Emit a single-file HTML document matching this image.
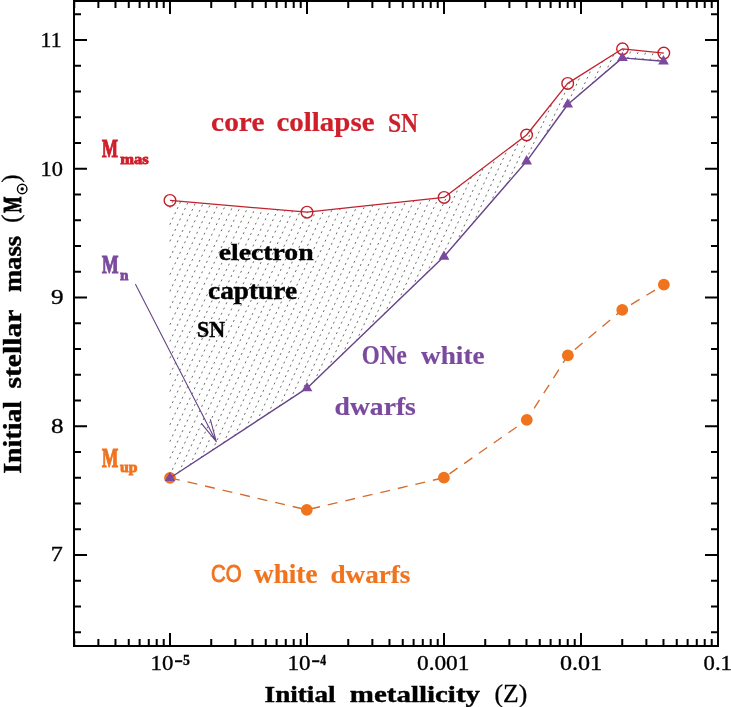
<!DOCTYPE html><html><head><meta charset="utf-8"><style>html,body{margin:0;padding:0;background:#fff;}svg{display:block;will-change:transform}</style></head><body>
<svg width="731" height="707" viewBox="0 0 731 707">
<rect width="731" height="707" fill="#fff"/>
<path d="M169.87 207.98L170.71 206.17M172.31 202.73L173.15 200.92M169.87 224.67L170.71 222.86M172.31 219.42L173.15 217.61M174.75 214.17L175.60 212.36M177.19 208.92L178.04 207.11M179.64 203.67L180.48 201.86M169.87 241.36L170.71 239.54M172.31 236.11L173.15 234.29M174.75 230.86L175.60 229.04M177.19 225.61L178.04 223.79M179.64 220.36L180.48 218.54M182.08 215.11L182.92 213.29M184.52 209.86L185.36 208.04M186.96 204.61L187.80 202.79M169.87 258.05L170.71 256.23M172.31 252.80L173.15 250.98M174.75 247.55L175.60 245.73M177.19 242.30L178.04 240.48M179.64 237.05L180.48 235.23M182.08 231.80L182.92 229.98M184.52 226.55L185.36 224.73M186.96 221.30L187.80 219.48M189.40 216.05L190.24 214.23M191.84 210.80L192.69 208.98M194.28 205.55L195.13 203.73M169.87 274.73L170.71 272.92M172.31 269.48L173.15 267.67M174.75 264.23L175.60 262.42M177.19 258.98L178.04 257.17M179.64 253.73L180.48 251.92M182.08 248.48L182.92 246.67M184.52 243.23L185.36 241.42M186.96 237.98L187.80 236.17M189.40 232.73L190.24 230.92M191.84 227.48L192.69 225.67M194.28 222.23L195.13 220.42M196.73 216.98L197.57 215.17M199.17 211.73L200.01 209.92M201.61 206.48L202.45 204.67M169.87 291.42L170.71 289.61M172.31 286.17L173.15 284.36M174.75 280.92L175.60 279.11M177.19 275.67L178.04 273.86M179.64 270.42L180.48 268.61M182.08 265.17L182.92 263.36M184.52 259.92L185.36 258.11M186.96 254.67L187.80 252.86M189.40 249.42L190.24 247.61M191.84 244.17L192.69 242.36M194.28 238.92L195.13 237.11M196.73 233.67L197.57 231.86M199.17 228.42L200.01 226.61M201.61 223.17L202.45 221.36M204.05 217.92L204.89 216.11M206.49 212.67L207.33 210.86M208.93 207.42L209.78 205.61M169.87 308.11L170.71 306.30M172.31 302.86L173.15 301.05M174.75 297.61L175.60 295.80M177.19 292.36L178.04 290.55M179.64 287.11L180.48 285.30M182.08 281.86L182.92 280.05M184.52 276.61L185.36 274.80M186.96 271.36L187.80 269.55M189.40 266.11L190.24 264.30M191.84 260.86L192.69 259.05M194.28 255.61L195.13 253.80M196.73 250.36L197.57 248.55M199.17 245.11L200.01 243.30M201.61 239.86L202.45 238.05M204.05 234.61L204.89 232.80M206.49 229.36L207.33 227.55M208.93 224.11L209.78 222.30M211.37 218.86L212.22 217.05M213.82 213.61L214.66 211.80M216.26 208.36L217.10 206.55M169.87 324.80L170.71 322.99M172.31 319.55L173.15 317.74M174.75 314.30L175.60 312.49M177.19 309.05L178.04 307.24M179.64 303.80L180.48 301.99M182.08 298.55L182.92 296.74M184.52 293.30L185.36 291.49M186.96 288.05L187.80 286.24M189.40 282.80L190.24 280.99M191.84 277.55L192.69 275.74M194.28 272.30L195.13 270.49M196.73 267.05L197.57 265.24M199.17 261.80L200.01 259.99M201.61 256.55L202.45 254.74M204.05 251.30L204.89 249.49M206.49 246.05L207.33 244.24M208.93 240.80L209.78 238.99M211.37 235.55L212.22 233.74M213.82 230.30L214.66 228.49M216.26 225.05L217.10 223.24M218.70 219.80L219.54 217.99M221.14 214.55L221.98 212.74M223.58 209.30L224.42 207.48M169.87 341.49L170.71 339.68M172.31 336.24L173.15 334.43M174.75 330.99L175.60 329.18M177.19 325.74L178.04 323.92M179.64 320.49L180.48 318.67M182.08 315.24L182.92 313.42M184.52 309.99L185.36 308.17M186.96 304.74L187.80 302.92M189.40 299.49L190.24 297.67M191.84 294.24L192.69 292.42M194.28 288.99L195.13 287.17M196.73 283.74L197.57 281.92M199.17 278.49L200.01 276.67M201.61 273.24L202.45 271.42M204.05 267.99L204.89 266.17M206.49 262.74L207.33 260.92M208.93 257.49L209.78 255.67M211.37 252.24L212.22 250.42M213.82 246.99L214.66 245.17M216.26 241.74L217.10 239.92M218.70 236.49L219.54 234.67M221.14 231.24L221.98 229.42M223.58 225.99L224.42 224.17M226.02 220.74L226.87 218.92M228.46 215.49L229.31 213.67M230.91 210.24L231.75 208.42M169.87 358.18L170.71 356.36M172.31 352.93L173.15 351.11M174.75 347.68L175.60 345.86M177.19 342.43L178.04 340.61M179.64 337.18L180.48 335.36M182.08 331.93L182.92 330.11M184.52 326.68L185.36 324.86M186.96 321.43L187.80 319.61M189.40 316.18L190.24 314.36M191.84 310.93L192.69 309.11M194.28 305.68L195.13 303.86M196.73 300.43L197.57 298.61M199.17 295.18L200.01 293.36M201.61 289.93L202.45 288.11M204.05 284.68L204.89 282.86M206.49 279.43L207.33 277.61M208.93 274.18L209.78 272.36M211.37 268.93L212.22 267.11M213.82 263.68L214.66 261.86M216.26 258.43L217.10 256.61M218.70 253.18L219.54 251.36M221.14 247.93L221.98 246.11M223.58 242.68L224.42 240.86M226.02 237.43L226.87 235.61M228.46 232.18L229.31 230.36M230.91 226.93L231.75 225.11M233.35 221.67L234.19 219.86M235.79 216.42L236.63 214.61M238.23 211.17L239.07 209.36M169.87 374.87L170.71 373.05M172.31 369.62L173.15 367.80M174.75 364.37L175.60 362.55M177.19 359.12L178.04 357.30M179.64 353.87L180.48 352.05M182.08 348.62L182.92 346.80M184.52 343.37L185.36 341.55M186.96 338.11L187.80 336.30M189.40 332.86L190.24 331.05M191.84 327.61L192.69 325.80M194.28 322.36L195.13 320.55M196.73 317.11L197.57 315.30M199.17 311.86L200.01 310.05M201.61 306.61L202.45 304.80M204.05 301.36L204.89 299.55M206.49 296.11L207.33 294.30M208.93 290.86L209.78 289.05M211.37 285.61L212.22 283.80M213.82 280.36L214.66 278.55M216.26 275.11L217.10 273.30M218.70 269.86L219.54 268.05M221.14 264.61L221.98 262.80M223.58 259.36L224.42 257.55M226.02 254.11L226.87 252.30M228.46 248.86L229.31 247.05M230.91 243.61L231.75 241.80M233.35 238.36L234.19 236.55M235.79 233.11L236.63 231.30M238.23 227.86L239.07 226.05M240.67 222.61L241.52 220.80M243.11 217.36L243.96 215.55M245.55 212.11L246.40 210.30M169.87 391.55L170.71 389.74M172.31 386.30L173.15 384.49M174.75 381.05L175.60 379.24M177.19 375.80L178.04 373.99M179.64 370.55L180.48 368.74M182.08 365.30L182.92 363.49M184.52 360.05L185.36 358.24M186.96 354.80L187.80 352.99M189.40 349.55L190.24 347.74M191.84 344.30L192.69 342.49M194.28 339.05L195.13 337.24M196.73 333.80L197.57 331.99M199.17 328.55L200.01 326.74M201.61 323.30L202.45 321.49M204.05 318.05L204.89 316.24M206.49 312.80L207.33 310.99M208.93 307.55L209.78 305.74M211.37 302.30L212.22 300.49M213.82 297.05L214.66 295.24M216.26 291.80L217.10 289.99M218.70 286.55L219.54 284.74M221.14 281.30L221.98 279.49M223.58 276.05L224.42 274.24M226.02 270.80L226.87 268.99M228.46 265.55L229.31 263.74M230.91 260.30L231.75 258.49M233.35 255.05L234.19 253.24M235.79 249.80L236.63 247.99M238.23 244.55L239.07 242.74M240.67 239.30L241.52 237.49M243.11 234.05L243.96 232.24M245.55 228.80L246.40 226.99M248.00 223.55L248.84 221.74M250.44 218.30L251.28 216.49M252.88 213.05L253.72 211.24M169.87 408.24L170.71 406.43M172.31 402.99L173.15 401.18M174.75 397.74L175.60 395.93M177.19 392.49L178.04 390.68M179.64 387.24L180.48 385.43M182.08 381.99L182.92 380.18M184.52 376.74L185.36 374.93M186.96 371.49L187.80 369.68M189.40 366.24L190.24 364.43M191.84 360.99L192.69 359.18M194.28 355.74L195.13 353.93M196.73 350.49L197.57 348.68M199.17 345.24L200.01 343.43M201.61 339.99L202.45 338.18M204.05 334.74L204.89 332.93M206.49 329.49L207.33 327.68M208.93 324.24L209.78 322.43M211.37 318.99L212.22 317.18M213.82 313.74L214.66 311.93M216.26 308.49L217.10 306.68M218.70 303.24L219.54 301.43M221.14 297.99L221.98 296.18M223.58 292.74L224.42 290.93M226.02 287.49L226.87 285.68M228.46 282.24L229.31 280.43M230.91 276.99L231.75 275.18M233.35 271.74L234.19 269.93M235.79 266.49L236.63 264.68M238.23 261.24L239.07 259.43M240.67 255.99L241.52 254.18M243.11 250.74L243.96 248.93M245.55 245.49L246.40 243.68M248.00 240.24L248.84 238.43M250.44 234.99L251.28 233.18M252.88 229.74L253.72 227.93M255.32 224.49L256.16 222.68M257.76 219.24L258.61 217.43M260.20 213.99L261.05 212.18M169.87 424.93L170.71 423.12M172.31 419.68L173.15 417.87M174.75 414.43L175.60 412.62M177.19 409.18L178.04 407.37M179.64 403.93L180.48 402.12M182.08 398.68L182.92 396.87M184.52 393.43L185.36 391.62M186.96 388.18L187.80 386.37M189.40 382.93L190.24 381.12M191.84 377.68L192.69 375.87M194.28 372.43L195.13 370.62M196.73 367.18L197.57 365.37M199.17 361.93L200.01 360.12M201.61 356.68L202.45 354.87M204.05 351.43L204.89 349.62M206.49 346.18L207.33 344.37M208.93 340.93L209.78 339.12M211.37 335.68L212.22 333.87M213.82 330.43L214.66 328.62M216.26 325.18L217.10 323.37M218.70 319.93L219.54 318.12M221.14 314.68L221.98 312.87M223.58 309.43L224.42 307.62M226.02 304.18L226.87 302.37M228.46 298.93L229.31 297.12M230.91 293.68L231.75 291.87M233.35 288.43L234.19 286.62M235.79 283.18L236.63 281.37M238.23 277.93L239.07 276.12M240.67 272.68L241.52 270.87M243.11 267.43L243.96 265.61M245.55 262.18L246.40 260.36M248.00 256.93L248.84 255.11M250.44 251.68L251.28 249.86M252.88 246.43L253.72 244.61M255.32 241.18L256.16 239.36M257.76 235.93L258.61 234.11M260.20 230.68L261.05 228.86M262.64 225.43L263.49 223.61M265.09 220.18L265.93 218.36M267.53 214.93L268.37 213.11M169.87 441.62L170.71 439.81M172.31 436.37L173.15 434.56M174.75 431.12L175.60 429.31M177.19 425.87L178.04 424.06M179.64 420.62L180.48 418.81M182.08 415.37L182.92 413.56M184.52 410.12L185.36 408.31M186.96 404.87L187.80 403.06M189.40 399.62L190.24 397.81M191.84 394.37L192.69 392.56M194.28 389.12L195.13 387.31M196.73 383.87L197.57 382.05M199.17 378.62L200.01 376.80M201.61 373.37L202.45 371.55M204.05 368.12L204.89 366.30M206.49 362.87L207.33 361.05M208.93 357.62L209.78 355.80M211.37 352.37L212.22 350.55M213.82 347.12L214.66 345.30M216.26 341.87L217.10 340.05M218.70 336.62L219.54 334.80M221.14 331.37L221.98 329.55M223.58 326.12L224.42 324.30M226.02 320.87L226.87 319.05M228.46 315.62L229.31 313.80M230.91 310.37L231.75 308.55M233.35 305.12L234.19 303.30M235.79 299.87L236.63 298.05M238.23 294.62L239.07 292.80M240.67 289.37L241.52 287.55M243.11 284.12L243.96 282.30M245.55 278.87L246.40 277.05M248.00 273.62L248.84 271.80M250.44 268.37L251.28 266.55M252.88 263.12L253.72 261.30M255.32 257.87L256.16 256.05M257.76 252.62L258.61 250.80M260.20 247.37L261.05 245.55M262.64 242.12L263.49 240.30M265.09 236.87L265.93 235.05M267.53 231.62L268.37 229.80M269.97 226.37L270.81 224.55M272.41 221.12L273.25 219.30M274.85 215.87L275.70 214.05M277.29 210.62L277.73 209.68M169.87 458.31L170.71 456.49M172.31 453.06L173.15 451.24M174.75 447.81L175.60 445.99M177.19 442.56L178.04 440.74M179.64 437.31L180.48 435.49M182.08 432.06L182.92 430.24M184.52 426.81L185.36 424.99M186.96 421.56L187.80 419.74M189.40 416.31L190.24 414.49M191.84 411.06L192.69 409.24M194.28 405.81L195.13 403.99M196.73 400.56L197.57 398.74M199.17 395.31L200.01 393.49M201.61 390.06L202.45 388.24M204.05 384.81L204.89 382.99M206.49 379.56L207.33 377.74M208.93 374.31L209.78 372.49M211.37 369.06L212.22 367.24M213.82 363.81L214.66 361.99M216.26 358.56L217.10 356.74M218.70 353.31L219.54 351.49M221.14 348.06L221.98 346.24M223.58 342.81L224.42 340.99M226.02 337.56L226.87 335.74M228.46 332.31L229.31 330.49M230.91 327.06L231.75 325.24M233.35 321.81L234.19 319.99M235.79 316.56L236.63 314.74M238.23 311.31L239.07 309.49M240.67 306.06L241.52 304.24M243.11 300.81L243.96 298.99M245.55 295.56L246.40 293.74M248.00 290.31L248.84 288.49M250.44 285.06L251.28 283.24M252.88 279.81L253.72 277.99M255.32 274.55L256.16 272.74M257.76 269.30L258.61 267.49M260.20 264.05L261.05 262.24M262.64 258.80L263.49 256.99M265.09 253.55L265.93 251.74M267.53 248.30L268.37 246.49M269.97 243.05L270.81 241.24M272.41 237.80L273.25 235.99M274.85 232.55L275.70 230.74M277.29 227.30L278.14 225.49M279.74 222.05L280.58 220.24M282.18 216.80L283.02 214.99M284.62 211.55L285.19 210.32M169.87 475.00L170.71 473.18M172.31 469.75L173.15 467.93M174.75 464.50L175.60 462.68M177.19 459.25L178.04 457.43M179.64 454.00L180.48 452.18M182.08 448.75L182.92 446.93M184.52 443.50L185.36 441.68M186.96 438.25L187.80 436.43M189.40 433.00L190.24 431.18M191.84 427.75L192.69 425.93M194.28 422.50L195.13 420.68M196.73 417.25L197.57 415.43M199.17 412.00L200.01 410.18M201.61 406.75L202.45 404.93M204.05 401.50L204.89 399.68M206.49 396.25L207.33 394.43M208.93 390.99L209.78 389.18M211.37 385.74L212.22 383.93M213.82 380.49L214.66 378.68M216.26 375.24L217.10 373.43M218.70 369.99L219.54 368.18M221.14 364.74L221.98 362.93M223.58 359.49L224.42 357.68M226.02 354.24L226.87 352.43M228.46 348.99L229.31 347.18M230.91 343.74L231.75 341.93M233.35 338.49L234.19 336.68M235.79 333.24L236.63 331.43M238.23 327.99L239.07 326.18M240.67 322.74L241.52 320.93M243.11 317.49L243.96 315.68M245.55 312.24L246.40 310.43M248.00 306.99L248.84 305.18M250.44 301.74L251.28 299.93M252.88 296.49L253.72 294.68M255.32 291.24L256.16 289.43M257.76 285.99L258.61 284.18M260.20 280.74L261.05 278.93M262.64 275.49L263.49 273.68M265.09 270.24L265.93 268.43M267.53 264.99L268.37 263.18M269.97 259.74L270.81 257.93M272.41 254.49L273.25 252.68M274.85 249.24L275.70 247.43M277.29 243.99L278.14 242.18M279.74 238.74L280.58 236.93M282.18 233.49L283.02 231.68M284.62 228.24L285.46 226.43M287.06 222.99L287.90 221.18M289.50 217.74L290.34 215.93M291.94 212.49L292.65 210.96M178.84 472.40L179.68 470.59M181.28 467.15L182.12 465.34M183.72 461.90L184.56 460.09M186.16 456.65L187.00 454.84M188.60 451.40L189.44 449.59M191.04 446.15L191.89 444.34M193.48 440.90L194.33 439.09M195.93 435.65L196.77 433.84M198.37 430.40L199.21 428.59M200.81 425.15L201.65 423.34M203.25 419.90L204.09 418.09M205.69 414.65L206.53 412.84M208.13 409.40L208.98 407.59M210.57 404.15L211.42 402.34M213.02 398.90L213.86 397.09M215.46 393.65L216.30 391.84M217.90 388.40L218.74 386.59M220.34 383.15L221.18 381.34M222.78 377.90L223.63 376.09M225.22 372.65L226.07 370.84M227.66 367.40L228.51 365.59M230.11 362.15L230.95 360.34M232.55 356.90L233.39 355.09M234.99 351.65L235.83 349.84M237.43 346.40L238.27 344.59M239.87 341.15L240.72 339.34M242.31 335.90L243.16 334.09M244.75 330.65L245.60 328.84M247.20 325.40L248.04 323.59M249.64 320.15L250.48 318.34M252.08 314.90L252.92 313.09M254.52 309.65L255.36 307.84M256.96 304.40L257.81 302.59M259.40 299.15L260.25 297.34M261.85 293.90L262.69 292.09M264.29 288.65L265.13 286.84M266.73 283.40L267.57 281.59M269.17 278.15L270.01 276.34M271.61 272.90L272.45 271.09M274.05 267.65L274.90 265.84M276.49 262.40L277.34 260.59M278.94 257.15L279.78 255.34M281.38 251.90L282.22 250.09M283.82 246.65L284.66 244.84M286.26 241.40L287.10 239.59M288.70 236.15L289.54 234.34M291.14 230.90L291.99 229.09M293.58 225.65L294.43 223.84M296.03 220.40L296.87 218.59M298.47 215.15L299.31 213.34M190.00 465.09L190.84 463.27M192.44 459.84L193.28 458.02M194.88 454.59L195.73 452.77M197.32 449.34L198.17 447.52M199.76 444.09L200.61 442.27M202.21 438.84L203.05 437.02M204.65 433.59L205.49 431.77M207.09 428.34L207.93 426.52M209.53 423.09L210.37 421.27M211.97 417.84L212.82 416.02M214.41 412.59L215.26 410.77M216.86 407.34L217.70 405.52M219.30 402.09L220.14 400.27M221.74 396.84L222.58 395.02M224.18 391.59L225.02 389.77M226.62 386.34L227.46 384.52M229.06 381.09L229.91 379.27M231.50 375.84L232.35 374.02M233.95 370.59L234.79 368.77M236.39 365.34L237.23 363.52M238.83 360.08L239.67 358.27M241.27 354.83L242.11 353.02M243.71 349.58L244.55 347.77M246.15 344.33L247.00 342.52M248.59 339.08L249.44 337.27M251.04 333.83L251.88 332.02M253.48 328.58L254.32 326.77M255.92 323.33L256.76 321.52M258.36 318.08L259.20 316.27M260.80 312.83L261.64 311.02M263.24 307.58L264.09 305.77M265.68 302.33L266.53 300.52M268.13 297.08L268.97 295.27M270.57 291.83L271.41 290.02M273.01 286.58L273.85 284.77M275.45 281.33L276.29 279.52M277.89 276.08L278.73 274.27M280.33 270.83L281.18 269.02M282.77 265.58L283.62 263.77M285.22 260.33L286.06 258.52M287.66 255.08L288.50 253.27M290.10 249.83L290.94 248.02M292.54 244.58L293.38 242.77M294.98 239.33L295.83 237.52M297.42 234.08L298.27 232.27M299.86 228.83L300.71 227.02M302.31 223.58L303.15 221.77M304.75 218.33L305.59 216.52M307.19 213.08L307.63 212.13M201.16 457.77L202.01 455.96M203.60 452.52L204.45 450.71M206.05 447.27L206.89 445.46M208.49 442.02L209.33 440.21M210.93 436.77L211.77 434.96M213.37 431.52L214.21 429.71M215.81 426.27L216.65 424.46M218.25 421.02L219.10 419.21M220.69 415.77L221.54 413.96M223.14 410.52L223.98 408.70M225.58 405.27L226.42 403.45M228.02 400.02L228.86 398.20M230.46 394.77L231.30 392.95M232.90 389.52L233.74 387.70M235.34 384.27L236.19 382.45M237.78 379.02L238.63 377.20M240.23 373.77L241.07 371.95M242.67 368.52L243.51 366.70M245.11 363.27L245.95 361.45M247.55 358.02L248.39 356.20M249.99 352.77L250.84 350.95M252.43 347.52L253.28 345.70M254.87 342.27L255.72 340.45M257.32 337.02L258.16 335.20M259.76 331.77L260.60 329.95M262.20 326.52L263.04 324.70M264.64 321.27L265.48 319.45M267.08 316.02L267.93 314.20M269.52 310.77L270.37 308.95M271.96 305.52L272.81 303.70M274.41 300.27L275.25 298.45M276.85 295.02L277.69 293.20M279.29 289.77L280.13 287.95M281.73 284.52L282.57 282.70M284.17 279.27L285.02 277.45M286.61 274.02L287.46 272.20M289.06 268.77L289.90 266.95M291.50 263.52L292.34 261.70M293.94 258.27L294.78 256.45M296.38 253.02L297.22 251.20M298.82 247.77L299.66 245.95M301.26 242.52L302.11 240.70M303.70 237.27L304.55 235.45M306.15 232.02L306.99 230.20M308.59 226.77L309.43 224.95M311.03 221.52L311.87 219.70M313.47 216.27L314.31 214.45M212.33 450.45L213.17 448.64M214.77 445.20L215.61 443.39M217.21 439.95L218.05 438.14M219.65 434.70L220.49 432.89M222.09 429.45L222.94 427.64M224.53 424.20L225.38 422.39M226.97 418.95L227.82 417.14M229.42 413.70L230.26 411.89M231.86 408.45L232.70 406.64M234.30 403.20L235.14 401.39M236.74 397.95L237.58 396.14M239.18 392.70L240.03 390.89M241.62 387.45L242.47 385.64M244.07 382.20L244.91 380.39M246.51 376.95L247.35 375.14M248.95 371.70L249.79 369.89M251.39 366.45L252.23 364.64M253.83 361.20L254.67 359.39M256.27 355.95L257.12 354.14M258.71 350.70L259.56 348.89M261.16 345.45L262.00 343.64M263.60 340.20L264.44 338.39M266.04 334.95L266.88 333.14M268.48 329.70L269.32 327.89M270.92 324.45L271.76 322.64M273.36 319.20L274.21 317.39M275.80 313.95L276.65 312.14M278.25 308.70L279.09 306.89M280.69 303.45L281.53 301.64M283.13 298.20L283.97 296.39M285.57 292.95L286.41 291.14M288.01 287.70L288.85 285.89M290.45 282.45L291.30 280.64M292.89 277.20L293.74 275.39M295.34 271.95L296.18 270.14M297.78 266.70L298.62 264.89M300.22 261.45L301.06 259.64M302.66 256.20L303.50 254.39M305.10 250.95L305.94 249.14M307.54 245.70L308.39 243.89M309.98 240.45L310.83 238.64M312.43 235.20L313.27 233.38M314.87 229.95L315.71 228.13M317.31 224.70L318.15 222.88M319.75 219.45L320.59 217.63M322.19 214.20L323.04 212.38M223.49 443.13L224.33 441.32M225.93 437.88L226.77 436.07M228.37 432.63L229.22 430.82M230.81 427.38L231.66 425.57M233.26 422.13L234.10 420.32M235.70 416.88L236.54 415.07M238.14 411.63L238.98 409.82M240.58 406.38L241.42 404.57M243.02 401.13L243.86 399.32M245.46 395.88L246.31 394.07M247.90 390.63L248.75 388.82M250.35 385.38L251.19 383.57M252.79 380.13L253.63 378.32M255.23 374.88L256.07 373.07M257.67 369.63L258.51 367.82M260.11 364.38L260.95 362.57M262.55 359.13L263.40 357.32M264.99 353.88L265.84 352.07M267.44 348.63L268.28 346.82M269.88 343.38L270.72 341.57M272.32 338.13L273.16 336.32M274.76 332.88L275.60 331.07M277.20 327.63L278.05 325.82M279.64 322.38L280.49 320.57M282.08 317.13L282.93 315.32M284.53 311.88L285.37 310.07M286.97 306.63L287.81 304.82M289.41 301.38L290.25 299.57M291.85 296.13L292.69 294.32M294.29 290.88L295.14 289.07M296.73 285.63L297.58 283.82M299.17 280.38L300.02 278.57M301.62 275.13L302.46 273.32M304.06 269.88L304.90 268.07M306.50 264.63L307.34 262.82M308.94 259.38L309.78 257.57M311.38 254.13L312.23 252.32M313.82 248.88L314.67 247.07M316.27 243.63L317.11 241.82M318.71 238.38L319.55 236.57M321.15 233.13L321.99 231.32M323.59 227.88L324.43 226.07M326.03 222.63L326.87 220.82M328.47 217.38L329.32 215.57M330.91 212.13L331.76 210.32M234.65 435.82L235.50 434.00M237.09 430.57L237.94 428.75M239.54 425.32L240.38 423.50M241.98 420.07L242.82 418.25M244.42 414.82L245.26 413.00M246.86 409.57L247.70 407.75M249.30 404.32L250.15 402.50M251.74 399.07L252.59 397.25M254.18 393.82L255.03 392.00M256.63 388.57L257.47 386.75M259.07 383.32L259.91 381.50M261.51 378.07L262.35 376.25M263.95 372.82L264.79 371.00M266.39 367.57L267.24 365.75M268.83 362.32L269.68 360.50M271.28 357.07L272.12 355.25M273.72 351.82L274.56 350.00M276.16 346.57L277.00 344.75M278.60 341.32L279.44 339.50M281.04 336.07L281.88 334.25M283.48 330.82L284.33 329.00M285.92 325.57L286.77 323.75M288.37 320.32L289.21 318.50M290.81 315.07L291.65 313.25M293.25 309.82L294.09 308.00M295.69 304.56L296.53 302.75M298.13 299.31L298.97 297.50M300.57 294.06L301.42 292.25M303.01 288.81L303.86 287.00M305.46 283.56L306.30 281.75M307.90 278.31L308.74 276.50M310.34 273.06L311.18 271.25M312.78 267.81L313.62 266.00M315.22 262.56L316.06 260.75M317.66 257.31L318.51 255.50M320.10 252.06L320.95 250.25M322.55 246.81L323.39 245.00M324.99 241.56L325.83 239.75M327.43 236.31L328.27 234.50M329.87 231.06L330.71 229.25M332.31 225.81L333.15 224.00M334.75 220.56L335.60 218.75M337.19 215.31L338.04 213.50M339.64 210.06L340.31 208.60M245.82 428.50L246.66 426.69M248.26 423.25L249.10 421.44M250.70 418.00L251.54 416.19M253.14 412.75L253.98 410.94M255.58 407.50L256.43 405.69M258.02 402.25L258.87 400.44M260.47 397.00L261.31 395.19M262.91 391.75L263.75 389.94M265.35 386.50L266.19 384.69M267.79 381.25L268.63 379.44M270.23 376.00L271.07 374.19M272.67 370.75L273.52 368.94M275.11 365.50L275.96 363.69M277.56 360.25L278.40 358.44M280.00 355.00L280.84 353.18M282.44 349.75L283.28 347.93M284.88 344.50L285.72 342.68M287.32 339.25L288.16 337.43M289.76 334.00L290.61 332.18M292.20 328.75L293.05 326.93M294.65 323.50L295.49 321.68M297.09 318.25L297.93 316.43M299.53 313.00L300.37 311.18M301.97 307.75L302.81 305.93M304.41 302.50L305.26 300.68M306.85 297.25L307.70 295.43M309.29 292.00L310.14 290.18M311.74 286.75L312.58 284.93M314.18 281.50L315.02 279.68M316.62 276.25L317.46 274.43M319.06 271.00L319.90 269.18M321.50 265.75L322.35 263.93M323.94 260.50L324.79 258.68M326.38 255.25L327.23 253.43M328.83 250.00L329.67 248.18M331.27 244.75L332.11 242.93M333.71 239.50L334.55 237.68M336.15 234.25L336.99 232.43M338.59 229.00L339.44 227.18M341.03 223.75L341.88 221.93M343.48 218.50L344.32 216.68M345.92 213.25L346.76 211.43M256.98 421.18L257.82 419.37M259.42 415.93L260.26 414.12M261.86 410.68L262.71 408.87M264.30 405.43L265.15 403.62M266.75 400.18L267.59 398.37M269.19 394.93L270.03 393.12M271.63 389.68L272.47 387.87M274.07 384.43L274.91 382.62M276.51 379.18L277.36 377.37M278.95 373.93L279.80 372.12M281.39 368.68L282.24 366.87M283.84 363.43L284.68 361.62M286.28 358.18L287.12 356.37M288.72 352.93L289.56 351.12M291.16 347.68L292.00 345.87M293.60 342.43L294.45 340.62M296.04 337.18L296.89 335.37M298.48 331.93L299.33 330.12M300.93 326.68L301.77 324.87M303.37 321.43L304.21 319.62M305.81 316.18L306.65 314.37M308.25 310.93L309.09 309.12M310.69 305.68L311.54 303.87M313.13 300.43L313.98 298.62M315.58 295.18L316.42 293.37M318.02 289.93L318.86 288.12M320.46 284.68L321.30 282.87M322.90 279.43L323.74 277.62M325.34 274.18L326.18 272.37M327.78 268.93L328.63 267.12M330.22 263.68L331.07 261.87M332.67 258.43L333.51 256.62M335.11 253.18L335.95 251.37M337.55 247.93L338.39 246.12M339.99 242.68L340.83 240.87M342.43 237.43L343.27 235.62M344.87 232.18L345.72 230.37M347.31 226.93L348.16 225.12M349.76 221.68L350.60 219.87M352.20 216.43L353.04 214.62M354.64 211.18L355.48 209.37M268.14 413.86L268.99 412.05M270.59 408.61L271.43 406.80M273.03 403.36L273.87 401.55M275.47 398.11L276.31 396.30M277.91 392.86L278.75 391.05M280.35 387.61L281.19 385.80M282.79 382.36L283.64 380.55M285.23 377.11L286.08 375.30M287.68 371.86L288.52 370.05M290.12 366.61L290.96 364.80M292.56 361.36L293.40 359.55M295.00 356.11L295.84 354.30M297.44 350.86L298.28 349.05M299.88 345.61L300.73 343.80M302.32 340.36L303.17 338.55M304.77 335.11L305.61 333.30M307.21 329.86L308.05 328.05M309.65 324.61L310.49 322.80M312.09 319.36L312.93 317.55M314.53 314.11L315.37 312.30M316.97 308.86L317.82 307.05M319.41 303.61L320.26 301.80M321.86 298.36L322.70 296.55M324.30 293.11L325.14 291.30M326.74 287.86L327.58 286.05M329.18 282.61L330.02 280.80M331.62 277.36L332.47 275.55M334.06 272.11L334.91 270.30M336.50 266.86L337.35 265.05M338.95 261.61L339.79 259.80M341.39 256.36L342.23 254.55M343.83 251.11L344.67 249.30M346.27 245.86L347.11 244.05M348.71 240.61L349.56 238.80M351.15 235.36L352.00 233.55M353.59 230.11L354.44 228.30M356.04 224.86L356.88 223.05M358.48 219.61L359.32 217.80M360.92 214.36L361.76 212.55M363.36 209.11L364.20 207.30M279.31 406.55L280.15 404.73M281.75 401.30L282.59 399.48M284.19 396.05L285.03 394.23M286.63 390.80L287.47 388.98M289.07 385.55L289.92 383.73M291.51 380.30L292.36 378.48M293.96 375.05L294.80 373.23M296.40 369.80L297.24 367.98M298.84 364.55L299.68 362.73M301.28 359.30L302.12 357.48M303.72 354.05L304.57 352.23M306.16 348.80L307.01 346.98M308.60 343.55L309.45 341.73M311.05 338.30L311.89 336.48M313.49 333.05L314.33 331.23M315.93 327.80L316.77 325.98M318.37 322.55L319.21 320.73M320.81 317.30L321.66 315.48M323.25 312.05L324.10 310.23M325.69 306.80L326.54 304.98M328.14 301.55L328.98 299.73M330.58 296.30L331.42 294.48M333.02 291.05L333.86 289.23M335.46 285.80L336.30 283.98M337.90 280.55L338.75 278.73M340.34 275.30L341.19 273.48M342.79 270.05L343.63 268.23M345.23 264.80L346.07 262.98M347.67 259.55L348.51 257.73M350.11 254.30L350.95 252.48M352.55 249.04L353.39 247.23M354.99 243.79L355.84 241.98M357.43 238.54L358.28 236.73M359.88 233.29L360.72 231.48M362.32 228.04L363.16 226.23M364.76 222.79L365.60 220.98M367.20 217.54L368.04 215.73M369.64 212.29L370.48 210.48M372.08 207.04L372.93 205.23M290.47 399.23L291.31 397.42M292.91 393.98L293.76 392.17M295.35 388.73L296.20 386.92M297.80 383.48L298.64 381.67M300.24 378.23L301.08 376.42M302.68 372.98L303.52 371.17M305.12 367.73L305.96 365.92M307.56 362.48L308.40 360.67M310.00 357.23L310.85 355.42M312.44 351.98L313.29 350.17M314.89 346.73L315.73 344.92M317.33 341.48L318.17 339.67M319.77 336.23L320.61 334.42M322.21 330.98L323.05 329.17M324.65 325.73L325.49 323.92M327.09 320.48L327.94 318.67M329.53 315.23L330.38 313.42M331.98 309.98L332.82 308.17M334.42 304.73L335.26 302.91M336.86 299.48L337.70 297.66M339.30 294.23L340.14 292.41M341.74 288.98L342.58 287.16M344.18 283.73L345.03 281.91M346.62 278.48L347.47 276.66M349.07 273.23L349.91 271.41M351.51 267.98L352.35 266.16M353.95 262.73L354.79 260.91M356.39 257.48L357.23 255.66M358.83 252.23L359.67 250.41M361.27 246.98L362.12 245.16M363.71 241.73L364.56 239.91M366.16 236.48L367.00 234.66M368.60 231.23L369.44 229.41M371.04 225.98L371.88 224.16M373.48 220.73L374.32 218.91M375.92 215.48L376.77 213.66M378.36 210.23L379.21 208.41M301.63 391.91L302.48 390.10M304.08 386.66L304.92 384.85M306.52 381.41L307.36 379.60M308.96 376.16L309.80 374.35M311.40 370.91L312.24 369.10M313.84 365.66L314.68 363.85M316.28 360.41L317.13 358.60M318.72 355.16L319.57 353.35M321.17 349.91L322.01 348.10M323.61 344.66L324.45 342.85M326.05 339.41L326.89 337.60M328.49 334.16L329.33 332.35M330.93 328.91L331.78 327.10M333.37 323.66L334.22 321.85M335.81 318.41L336.66 316.60M338.26 313.16L339.10 311.35M340.70 307.91L341.54 306.10M343.14 302.66L343.98 300.85M345.58 297.41L346.42 295.60M348.02 292.16L348.87 290.35M350.46 286.91L351.31 285.10M352.90 281.66L353.75 279.85M355.35 276.41L356.19 274.60M357.79 271.16L358.63 269.35M360.23 265.91L361.07 264.10M362.67 260.66L363.51 258.85M365.11 255.41L365.96 253.60M367.55 250.16L368.40 248.35M370.00 244.91L370.84 243.10M372.44 239.66L373.28 237.85M374.88 234.41L375.72 232.60M377.32 229.16L378.16 227.35M379.76 223.91L380.60 222.10M382.20 218.66L383.05 216.85M384.64 213.41L385.49 211.60M387.09 208.16L387.93 206.35M314.32 381.33L315.16 379.51M316.76 376.08L317.60 374.26M319.20 370.83L320.04 369.01M321.64 365.58L322.49 363.76M324.08 360.33L324.93 358.51M326.53 355.08L327.37 353.26M328.97 349.83L329.81 348.01M331.41 344.58L332.25 342.76M333.85 339.33L334.69 337.51M336.29 334.08L337.13 332.26M338.73 328.83L339.58 327.01M341.17 323.58L342.02 321.76M343.62 318.33L344.46 316.51M346.06 313.07L346.90 311.26M348.50 307.82L349.34 306.01M350.94 302.57L351.78 300.76M353.38 297.32L354.22 295.51M355.82 292.07L356.67 290.26M358.26 286.82L359.11 285.01M360.71 281.57L361.55 279.76M363.15 276.32L363.99 274.51M365.59 271.07L366.43 269.26M368.03 265.82L368.87 264.01M370.47 260.57L371.31 258.76M372.91 255.32L373.76 253.51M375.35 250.07L376.20 248.26M377.80 244.82L378.64 243.01M380.24 239.57L381.08 237.76M382.68 234.32L383.52 232.51M385.12 229.07L385.96 227.26M387.56 223.82L388.41 222.01M390.00 218.57L390.85 216.76M392.44 213.32L393.29 211.51M394.89 208.07L395.73 206.26M328.34 367.85L329.19 366.04M330.79 362.60L331.63 360.79M333.23 357.35L334.07 355.54M335.67 352.10L336.51 350.29M338.11 346.85L338.95 345.04M340.55 341.60L341.39 339.79M342.99 336.35L343.84 334.54M345.43 331.10L346.28 329.29M347.88 325.85L348.72 324.04M350.32 320.60L351.16 318.79M352.76 315.35L353.60 313.54M355.20 310.10L356.04 308.29M357.64 304.85L358.49 303.04M360.08 299.60L360.93 297.79M362.52 294.35L363.37 292.54M364.97 289.10L365.81 287.29M367.41 283.85L368.25 282.04M369.85 278.60L370.69 276.79M372.29 273.35L373.13 271.54M374.73 268.10L375.58 266.29M377.17 262.85L378.02 261.04M379.61 257.60L380.46 255.79M382.06 252.35L382.90 250.54M384.50 247.10L385.34 245.29M386.94 241.85L387.78 240.04M389.38 236.60L390.22 234.79M391.82 231.35L392.67 229.54M394.26 226.10L395.11 224.29M396.71 220.85L397.55 219.04M399.15 215.60L399.99 213.79M401.59 210.35L402.43 208.54M404.03 205.10L404.87 203.29M342.37 354.38L343.21 352.57M344.81 349.13L345.66 347.32M347.25 343.88L348.10 342.07M349.69 338.63L350.54 336.82M352.14 333.38L352.98 331.57M354.58 328.13L355.42 326.32M357.02 322.88L357.86 321.07M359.46 317.63L360.30 315.82M361.90 312.38L362.75 310.57M364.34 307.13L365.19 305.31M366.79 301.88L367.63 300.06M369.23 296.63L370.07 294.81M371.67 291.38L372.51 289.56M374.11 286.13L374.95 284.31M376.55 280.88L377.39 279.06M378.99 275.63L379.84 273.81M381.43 270.38L382.28 268.56M383.88 265.13L384.72 263.31M386.32 259.88L387.16 258.06M388.76 254.63L389.60 252.81M391.20 249.38L392.04 247.56M393.64 244.13L394.48 242.31M396.08 238.88L396.93 237.06M398.52 233.63L399.37 231.81M400.97 228.38L401.81 226.56M403.41 223.13L404.25 221.31M405.85 217.88L406.69 216.06M408.29 212.63L409.13 210.81M410.73 207.38L411.57 205.56M413.17 202.13L413.85 200.67M356.40 340.91L357.24 339.09M358.84 335.66L359.68 333.84M361.28 330.41L362.12 328.59M363.72 325.16L364.56 323.34M366.16 319.91L367.01 318.09M368.60 314.66L369.45 312.84M371.05 309.41L371.89 307.59M373.49 304.16L374.33 302.34M375.93 298.91L376.77 297.09M378.37 293.66L379.21 291.84M380.81 288.40L381.65 286.59M383.25 283.15L384.10 281.34M385.69 277.90L386.54 276.09M388.14 272.65L388.98 270.84M390.58 267.40L391.42 265.59M393.02 262.15L393.86 260.34M395.46 256.90L396.30 255.09M397.90 251.65L398.75 249.84M400.34 246.40L401.19 244.59M402.78 241.15L403.63 239.34M405.23 235.90L406.07 234.09M407.67 230.65L408.51 228.84M410.11 225.40L410.95 223.59M412.55 220.15L413.39 218.34M414.99 214.90L415.84 213.09M417.43 209.65L418.28 207.84M419.87 204.40L420.72 202.59M370.42 327.43L371.27 325.62M372.86 322.18L373.71 320.37M375.31 316.93L376.15 315.12M377.75 311.68L378.59 309.87M380.19 306.43L381.03 304.62M382.63 301.18L383.47 299.37M385.07 295.93L385.92 294.12M387.51 290.68L388.36 288.87M389.95 285.43L390.80 283.62M392.40 280.18L393.24 278.37M394.84 274.93L395.68 273.12M397.28 269.68L398.12 267.87M399.72 264.43L400.56 262.62M402.16 259.18L403.01 257.37M404.60 253.93L405.45 252.12M407.05 248.68L407.89 246.87M409.49 243.43L410.33 241.62M411.93 238.18L412.77 236.37M414.37 232.93L415.21 231.12M416.81 227.68L417.65 225.87M419.25 222.43L420.10 220.62M421.69 217.18L422.54 215.37M424.14 211.93L424.98 210.12M426.58 206.68L427.42 204.87M429.02 201.43L429.86 199.62M384.45 313.96L385.29 312.15M386.89 308.71L387.73 306.90M389.33 303.46L390.18 301.65M391.77 298.21L392.62 296.40M394.22 292.96L395.06 291.15M396.66 287.71L397.50 285.90M399.10 282.46L399.94 280.64M401.54 277.21L402.38 275.39M403.98 271.96L404.82 270.14M406.42 266.71L407.27 264.89M408.86 261.46L409.71 259.64M411.31 256.21L412.15 254.39M413.75 250.96L414.59 249.14M416.19 245.71L417.03 243.89M418.63 240.46L419.47 238.64M421.07 235.21L421.91 233.39M423.51 229.96L424.36 228.14M425.95 224.71L426.80 222.89M428.40 219.46L429.24 217.64M430.84 214.21L431.68 212.39M433.28 208.96L434.12 207.14M435.72 203.71L436.56 201.89M398.48 300.49L399.32 298.67M400.92 295.24L401.76 293.42M403.36 289.99L404.20 288.17M405.80 284.74L406.64 282.92M408.24 279.49L409.08 277.67M410.68 274.24L411.53 272.42M413.12 268.99L413.97 267.17M415.57 263.73L416.41 261.92M418.01 258.48L418.85 256.67M420.45 253.23L421.29 251.42M422.89 247.98L423.73 246.17M425.33 242.73L426.18 240.92M427.77 237.48L428.62 235.67M430.21 232.23L431.06 230.42M432.66 226.98L433.50 225.17M435.10 221.73L435.94 219.92M437.54 216.48L438.38 214.67M439.98 211.23L440.82 209.42M442.42 205.98L443.27 204.17M444.86 200.73L445.71 198.92M412.50 287.01L413.35 285.20M414.94 281.76L415.79 279.95M417.38 276.51L418.23 274.70M419.83 271.26L420.67 269.45M422.27 266.01L423.11 264.20M424.71 260.76L425.55 258.95M427.15 255.51L427.99 253.70M429.59 250.26L430.44 248.45M432.03 245.01L432.88 243.20M434.48 239.76L435.32 237.95M436.92 234.51L437.76 232.70M439.36 229.26L440.20 227.45M441.80 224.01L442.64 222.20M444.24 218.76L445.08 216.95M446.68 213.51L447.53 211.70M449.12 208.26L449.97 206.45M451.57 203.01L452.41 201.20M454.01 197.76L454.85 195.95M456.45 192.51L457.29 190.70M458.89 187.26L459.64 185.65M426.53 273.54L427.37 271.73M428.97 268.29L429.81 266.48M431.41 263.04L432.25 261.23M433.85 257.79L434.70 255.97M436.29 252.54L437.14 250.72M438.74 247.29L439.58 245.47M441.18 242.04L442.02 240.22M443.62 236.79L444.46 234.97M446.06 231.54L446.90 229.72M448.50 226.29L449.34 224.47M450.94 221.04L451.79 219.22M453.38 215.79L454.23 213.97M455.83 210.54L456.67 208.72M458.27 205.29L459.11 203.47M460.71 200.04L461.55 198.22M463.15 194.79L463.99 192.97M465.59 189.54L466.43 187.72M468.03 184.29L468.88 182.47M470.47 179.04L471.32 177.22M440.55 260.07L441.40 258.25M443.00 254.82L443.84 253.00M445.44 249.57L446.28 247.75M447.88 244.32L448.72 242.50M450.32 239.06L451.16 237.25M452.76 233.81L453.61 232.00M455.20 228.56L456.05 226.75M457.64 223.31L458.49 221.50M460.09 218.06L460.93 216.25M462.53 212.81L463.37 211.00M464.97 207.56L465.81 205.75M467.41 202.31L468.25 200.50M469.85 197.06L470.70 195.25M472.29 191.81L473.14 190.00M474.73 186.56L475.58 184.75M477.18 181.31L478.02 179.50M479.62 176.06L480.46 174.25M482.06 170.81L482.90 169.00M456.66 242.13L457.50 240.31M459.10 236.88L459.94 235.06M461.54 231.63L462.38 229.81M463.98 226.38L464.82 224.56M466.42 221.13L467.27 219.31M468.86 215.88L469.71 214.06M471.31 210.63L472.15 208.81M473.75 205.38L474.59 203.56M476.19 200.13L477.03 198.31M478.63 194.88L479.47 193.06M481.07 189.63L481.91 187.81M483.51 184.38L484.36 182.56M485.95 179.13L486.80 177.31M488.40 173.88L489.24 172.06M490.84 168.63L491.68 166.81M493.28 163.38L494.12 161.56M473.40 222.81L474.25 220.99M475.84 217.56L476.69 215.74M478.28 212.31L479.13 210.49M480.73 207.06L481.57 205.24M483.17 201.81L484.01 199.99M485.61 196.56L486.45 194.74M488.05 191.31L488.89 189.49M490.49 186.06L491.34 184.24M492.93 180.81L493.78 178.99M495.37 175.56L496.22 173.74M497.82 170.31L498.66 168.49M500.26 165.06L501.10 163.24M502.70 159.81L503.54 157.99M505.14 154.56L505.98 152.74M490.15 203.49L490.99 201.68M492.59 198.24L493.43 196.42M495.03 192.99L495.87 191.17M497.47 187.74L498.31 185.92M499.91 182.49L500.76 180.67M502.35 177.24L503.20 175.42M504.80 171.99L505.64 170.17M507.24 166.74L508.08 164.92M509.68 161.49L510.52 159.67M512.12 156.24L512.96 154.42M514.56 150.99L515.40 149.17M517.00 145.74L517.85 143.92M506.89 184.17L507.73 182.36M509.33 178.92L510.18 177.11M511.77 173.67L512.62 171.86M514.22 168.42L515.06 166.61M516.66 163.17L517.50 161.36M519.10 157.92L519.94 156.11M521.54 152.67L522.38 150.86M523.98 147.42L524.82 145.61M526.42 142.17L527.27 140.35M528.86 136.92L529.71 135.10M531.31 131.67L532.15 129.85M533.75 126.42L534.19 125.48M523.64 164.85L524.48 163.04M526.08 159.60L526.92 157.79M528.52 154.35L529.36 152.54M530.96 149.10L531.80 147.29M533.40 143.85L534.25 142.04M535.84 138.60L536.69 136.79M538.29 133.35L539.13 131.54M540.73 128.10L541.57 126.29M543.17 122.85L544.01 121.04M545.61 117.60L546.45 115.79M548.05 112.35L548.89 110.54M550.49 107.10L551.34 105.29M544.51 136.64L545.36 134.83M546.96 131.39L547.80 129.58M549.40 126.14L550.24 124.33M551.84 120.89L552.68 119.08M554.28 115.64L555.12 113.83M556.72 110.39L557.56 108.58M559.16 105.14L560.01 103.33M561.60 99.89L562.45 98.08M564.05 94.64L564.89 92.83M566.49 89.39L567.33 87.58M568.93 84.14L569.77 82.33M566.23 106.63L567.08 104.82M568.67 101.38L569.52 99.57M571.12 96.13L571.96 94.32M573.56 90.88L574.40 89.07M576.00 85.63L576.84 83.81M578.44 80.38L579.28 78.56M579.63 94.51L580.47 92.69M582.07 89.26L582.92 87.44M584.51 84.01L585.36 82.19M586.95 78.76L587.80 76.94M589.40 73.51L590.24 71.69M592.48 83.56L593.33 81.74M594.92 78.31L595.77 76.49M597.37 73.06L598.21 71.24M599.81 67.81L600.65 65.99M602.25 62.56L602.89 61.18M605.34 72.61L606.18 70.79M607.78 67.36L608.62 65.54M610.22 62.11L611.06 60.29M612.66 56.86L613.50 55.04M618.19 61.66L619.03 59.84M620.63 56.41L621.47 54.59M623.07 51.16L623.91 49.34M627.37 58.60L628.21 56.79M629.81 53.35L630.65 51.54M634.84 59.22L635.69 57.41M637.28 53.97L638.13 52.16M642.32 59.84L643.16 58.03M644.76 54.59L645.60 52.78M649.79 60.46L650.63 58.64M652.23 55.21L653.07 53.39M657.26 61.08L658.11 59.26M659.70 55.83L660.55 54.01" stroke="#686e63" stroke-width="1.0" fill="none"/>
<polyline points="170.00,200.40 307.00,212.20 444.10,197.40 526.60,135.00 567.70,83.40 622.50,48.80 663.80,53.10" fill="none" stroke="#c0222d" stroke-width="1.3" stroke-linejoin="round"/>
<circle cx="170" cy="200.4" r="5.8" fill="none" stroke="#c0202c" stroke-width="1.4"/>
<circle cx="307" cy="212.2" r="5.8" fill="none" stroke="#c0202c" stroke-width="1.4"/>
<circle cx="444.1" cy="197.4" r="5.8" fill="none" stroke="#c0202c" stroke-width="1.4"/>
<circle cx="526.6" cy="135.0" r="5.8" fill="none" stroke="#c0202c" stroke-width="1.4"/>
<circle cx="567.7" cy="83.4" r="5.8" fill="none" stroke="#c0202c" stroke-width="1.4"/>
<circle cx="622.5" cy="48.8" r="5.8" fill="none" stroke="#c0202c" stroke-width="1.4"/>
<circle cx="663.8" cy="53.1" r="5.8" fill="none" stroke="#c0202c" stroke-width="1.4"/>
<polyline points="170.00,477.80 306.80,509.80 443.90,477.70 526.80,419.90 567.85,355.35 622.25,309.90 663.85,284.70" fill="none" stroke="#d56c2e" stroke-width="1.35" stroke-dasharray="10 8"/>
<circle cx="170" cy="477.8" r="5.9" fill="#f0731e"/>
<circle cx="306.8" cy="509.8" r="5.9" fill="#f0731e"/>
<circle cx="443.9" cy="477.7" r="5.9" fill="#f0731e"/>
<circle cx="526.8" cy="419.9" r="5.9" fill="#f0731e"/>
<circle cx="567.85" cy="355.35" r="5.9" fill="#f0731e"/>
<circle cx="622.25" cy="309.9" r="5.9" fill="#f0731e"/>
<circle cx="663.85" cy="284.7" r="5.9" fill="#f0731e"/>
<polyline points="170.00,478.00 307.00,388.20 444.00,256.60 526.60,161.30 567.70,104.50 622.40,57.90 663.50,61.30" fill="none" stroke="#664589" stroke-width="1.45" stroke-linejoin="round"/>
<polygon points="170.00,471.80 175.37,481.10 164.63,481.10" fill="#7b4a9e"/>
<polygon points="307.00,382.00 312.37,391.30 301.63,391.30" fill="#7b4a9e"/>
<polygon points="444.00,250.40 449.37,259.70 438.63,259.70" fill="#7b4a9e"/>
<polygon points="526.60,155.10 531.97,164.40 521.23,164.40" fill="#7b4a9e"/>
<polygon points="567.70,98.30 573.07,107.60 562.33,107.60" fill="#7b4a9e"/>
<polygon points="622.40,51.70 627.77,61.00 617.03,61.00" fill="#7b4a9e"/>
<polygon points="663.50,55.10 668.87,64.40 658.13,64.40" fill="#7b4a9e"/>
<g stroke="#664589" stroke-width="1.1" fill="none" stroke-linecap="round"><path d="M135.6 284.4L216.3 441.7M201.6 423.6L216.3 441.7L210.4 419.6"/></g>
<path d="M74.24 646v-7M74.24 1v7M98.37 646v-7M98.37 1v7M115.48 646v-7M115.48 1v7M128.76 646v-7M128.76 1v7M139.61 646v-7M139.61 1v7M148.78 646v-7M148.78 1v7M156.72 646v-7M156.72 1v7M163.73 646v-7M163.73 1v7M170.00 646v-13M170.00 1v13M211.24 646v-7M211.24 1v7M235.37 646v-7M235.37 1v7M252.48 646v-7M252.48 1v7M265.76 646v-7M265.76 1v7M276.61 646v-7M276.61 1v7M285.78 646v-7M285.78 1v7M293.72 646v-7M293.72 1v7M300.73 646v-7M300.73 1v7M307.00 646v-13M307.00 1v13M348.24 646v-7M348.24 1v7M372.37 646v-7M372.37 1v7M389.48 646v-7M389.48 1v7M402.76 646v-7M402.76 1v7M413.61 646v-7M413.61 1v7M422.78 646v-7M422.78 1v7M430.72 646v-7M430.72 1v7M437.73 646v-7M437.73 1v7M444.00 646v-13M444.00 1v13M485.24 646v-7M485.24 1v7M509.37 646v-7M509.37 1v7M526.48 646v-7M526.48 1v7M539.76 646v-7M539.76 1v7M550.61 646v-7M550.61 1v7M559.78 646v-7M559.78 1v7M567.72 646v-7M567.72 1v7M574.73 646v-7M574.73 1v7M581.00 646v-13M581.00 1v13M622.24 646v-7M622.24 1v7M646.37 646v-7M646.37 1v7M663.48 646v-7M663.48 1v7M676.76 646v-7M676.76 1v7M687.61 646v-7M687.61 1v7M696.78 646v-7M696.78 1v7M704.72 646v-7M704.72 1v7M711.73 646v-7M711.73 1v7M718.00 646v-13M718.00 1v13M74 632.25h7M718 632.25h-7M74 606.50h7M718 606.50h-7M74 580.75h7M718 580.75h-7M74 555.00h13M718 555.00h-13M74 529.25h7M718 529.25h-7M74 503.50h7M718 503.50h-7M74 477.75h7M718 477.75h-7M74 452.00h7M718 452.00h-7M74 426.25h13M718 426.25h-13M74 400.50h7M718 400.50h-7M74 374.75h7M718 374.75h-7M74 349.00h7M718 349.00h-7M74 323.25h7M718 323.25h-7M74 297.50h13M718 297.50h-13M74 271.75h7M718 271.75h-7M74 246.00h7M718 246.00h-7M74 220.25h7M718 220.25h-7M74 194.50h7M718 194.50h-7M74 168.75h13M718 168.75h-13M74 143.00h7M718 143.00h-7M74 117.25h7M718 117.25h-7M74 91.50h7M718 91.50h-7M74 65.75h7M718 65.75h-7M74 40.00h13M718 40.00h-13M74 14.25h7M718 14.25h-7" stroke="#000" stroke-width="2" fill="none"/>
<rect x="74" y="1" width="644" height="645" fill="none" stroke="#000" stroke-width="2"/>
<g font-family="'Liberation Serif', serif">
<text x="40.58" y="46.9" font-size="21.5" fill="#000" stroke="#000" stroke-width="0.35" textLength="20.93" lengthAdjust="spacingAndGlyphs">11</text>
<text x="40.62" y="175.8" font-size="21.5" fill="#000" stroke="#000" stroke-width="0.35" textLength="22.41" lengthAdjust="spacingAndGlyphs">10</text>
<text x="50.93" y="304.3" font-size="21.5" fill="#000" stroke="#000" stroke-width="0.35" textLength="12.54" lengthAdjust="spacingAndGlyphs">9</text>
<text x="50.93" y="433.3" font-size="21.5" fill="#000" stroke="#000" stroke-width="0.35" textLength="12.54" lengthAdjust="spacingAndGlyphs">8</text>
<text x="50.88" y="561.2" font-size="21.5" fill="#000" stroke="#000" stroke-width="0.35" textLength="12.06" lengthAdjust="spacingAndGlyphs">7</text>
<text x="417.01" y="669.6" font-size="21.3" fill="#000" stroke="#000" stroke-width="0.35" textLength="52.4" lengthAdjust="spacingAndGlyphs">0.001</text>
<text x="559.97" y="669.6" font-size="21.3" fill="#000" stroke="#000" stroke-width="0.35" textLength="42.18" lengthAdjust="spacingAndGlyphs">0.01</text>
<text x="703.64" y="669.6" font-size="21.3" fill="#000" stroke="#000" stroke-width="0.35" textLength="28.33" lengthAdjust="spacingAndGlyphs">0.1</text>
<text x="150.56" y="670" font-size="21.3" fill="#000" stroke="#000" stroke-width="0.35" textLength="22.75" lengthAdjust="spacingAndGlyphs">10</text>
<text x="287.54" y="670" font-size="21.3" fill="#000" stroke="#000" stroke-width="0.35" textLength="22.98" lengthAdjust="spacingAndGlyphs">10</text>
<text x="183.0" y="664.8" font-size="13.57" font-weight="bold" fill="#000" stroke="#000" stroke-width="0.35" textLength="6.88" lengthAdjust="spacingAndGlyphs">5</text>
<text x="320.2" y="664.8" font-size="13.89" font-weight="bold" fill="#000" stroke="#000" stroke-width="0.35" textLength="5.85" lengthAdjust="spacingAndGlyphs">4</text>
<path d="M175 661.3h7.3M312.1 661.3h7.3" stroke="#000" stroke-width="2"/>
<text x="211.13" y="131" font-size="27.5" font-weight="bold" fill="#cf1f2b" stroke="#cf1f2b" stroke-width="0.2" textLength="53.3" lengthAdjust="spacingAndGlyphs">core</text>
<text x="276.45" y="131" font-size="27.5" font-weight="bold" fill="#cf1f2b" stroke="#cf1f2b" stroke-width="0.2" textLength="98.07" lengthAdjust="spacingAndGlyphs">collapse</text>
<text x="387.94" y="131.5" font-size="27.5" font-weight="bold" fill="#cf1f2b" stroke="#cf1f2b" stroke-width="0.2" textLength="30.19" lengthAdjust="spacingAndGlyphs">SN</text>
<text x="102.1" y="156.5" font-size="24.97" font-weight="bold" fill="#cf1f2b" stroke="#cf1f2b" stroke-width="1.2" textLength="15.9" lengthAdjust="spacingAndGlyphs">M</text>
<text x="120.2" y="163.5" font-size="14.93" font-weight="bold" fill="#cf1f2b" stroke="#cf1f2b" stroke-width="0.9" textLength="28.44" lengthAdjust="spacingAndGlyphs">mas</text>
<text x="101.9" y="272.8" font-size="24.59" font-weight="bold" fill="#7b4a9e" stroke="#7b4a9e" stroke-width="1.2" textLength="16.44" lengthAdjust="spacingAndGlyphs">M</text>
<text x="120.1" y="279.8" font-size="15.46" font-weight="bold" fill="#7b4a9e" stroke="#7b4a9e" stroke-width="0.9" textLength="8.4" lengthAdjust="spacingAndGlyphs">n</text>
<text x="361.85" y="363.5" font-size="27.36" font-weight="bold" fill="#7b4a9e" stroke="#7b4a9e" stroke-width="0.2" textLength="45.0" lengthAdjust="spacingAndGlyphs">ONe</text>
<text x="421.1" y="363.5" font-size="25.84" font-weight="bold" fill="#7b4a9e" stroke="#7b4a9e" stroke-width="0.2" textLength="63.48" lengthAdjust="spacingAndGlyphs">white</text>
<text x="334.61" y="414.5" font-size="25.41" font-weight="bold" fill="#7b4a9e" stroke="#7b4a9e" stroke-width="0.2" textLength="81.22" lengthAdjust="spacingAndGlyphs">dwarfs</text>
<text x="101.9" y="466.9" font-size="26.39" font-weight="bold" fill="#f0731e" stroke="#f0731e" stroke-width="1.2" textLength="16.24" lengthAdjust="spacingAndGlyphs">M</text>
<text x="120.0" y="472.4" font-size="15.08" font-weight="bold" fill="#f0731e" stroke="#f0731e" stroke-width="0.9" textLength="17.46" lengthAdjust="spacingAndGlyphs">up</text>
<text x="210.96" y="582.3" font-family="'Liberation Sans', sans-serif" font-size="24.33" fill="#f0731e" stroke="#f0731e" stroke-width="0.9" textLength="30.53" lengthAdjust="spacingAndGlyphs">CO</text>
<text x="254.1" y="582.6" font-size="26.7" font-weight="bold" fill="#f0731e" stroke="#f0731e" stroke-width="0.2" textLength="63.37" lengthAdjust="spacingAndGlyphs">white</text>
<text x="330.45" y="582.6" font-size="25.84" font-weight="bold" fill="#f0731e" stroke="#f0731e" stroke-width="0.2" textLength="79.9" lengthAdjust="spacingAndGlyphs">dwarfs</text>
<text x="218.75" y="259.6" font-size="24.0" font-weight="bold" fill="#000" stroke="#000" stroke-width="0.4" textLength="94.87" lengthAdjust="spacingAndGlyphs">electron</text>
<text x="208.02" y="298.5" font-size="25.4" font-weight="bold" fill="#000" stroke="#000" stroke-width="0.4" textLength="89.08" lengthAdjust="spacingAndGlyphs">capture</text>
<text x="197.02" y="336.5" font-size="22.4" font-weight="bold" fill="#000" stroke="#000" stroke-width="0.4" textLength="28.01" lengthAdjust="spacingAndGlyphs">SN</text>
<text x="264.57" y="701.5" font-size="24" font-weight="bold" fill="#000" stroke="#000" stroke-width="0.4" textLength="70.98" lengthAdjust="spacingAndGlyphs">Initial</text>
<text x="349.8" y="701.5" font-size="24" font-weight="bold" fill="#000" stroke="#000" stroke-width="0.4" textLength="130.24" lengthAdjust="spacingAndGlyphs">metallicity</text>
<text x="494.41" y="701.5" font-size="26" fill="#000" stroke="#000" stroke-width="0.3" textLength="32.77" lengthAdjust="spacingAndGlyphs">(Z)</text>
<g transform="translate(21.2,572.6) rotate(-90) translate(0,-300)">
<text x="98.87" y="300" font-size="24.6" font-weight="bold" fill="#000" stroke="#000" stroke-width="0.4" textLength="72.8" lengthAdjust="spacingAndGlyphs">Initial</text>
<text x="184.1" y="300" font-size="24.6" font-weight="bold" fill="#000" stroke="#000" stroke-width="0.4" textLength="78.88" lengthAdjust="spacingAndGlyphs">stellar</text>
<text x="280.5" y="300" font-size="24.6" font-weight="bold" fill="#000" stroke="#000" stroke-width="0.4" textLength="56.33" lengthAdjust="spacingAndGlyphs">mass</text>
<text x="349.96" y="298.3" font-size="26" fill="#000" stroke="#000" stroke-width="0.2" textLength="8.18" lengthAdjust="spacingAndGlyphs">(</text>
<text x="359.8" y="300" font-size="25.5" font-weight="bold" fill="#000" stroke="#000" stroke-width="1.0" textLength="16.05" lengthAdjust="spacingAndGlyphs">M</text>
<text x="389.94" y="298.3" font-size="26" fill="#000" stroke="#000" stroke-width="0.2" textLength="8.3" lengthAdjust="spacingAndGlyphs">)</text>
<circle cx="383.6" cy="301" r="4.75" fill="none" stroke="#000" stroke-width="1.4"/><circle cx="383.6" cy="301" r="1.7" fill="#000"/>
</g>
</g>
</svg></body></html>
